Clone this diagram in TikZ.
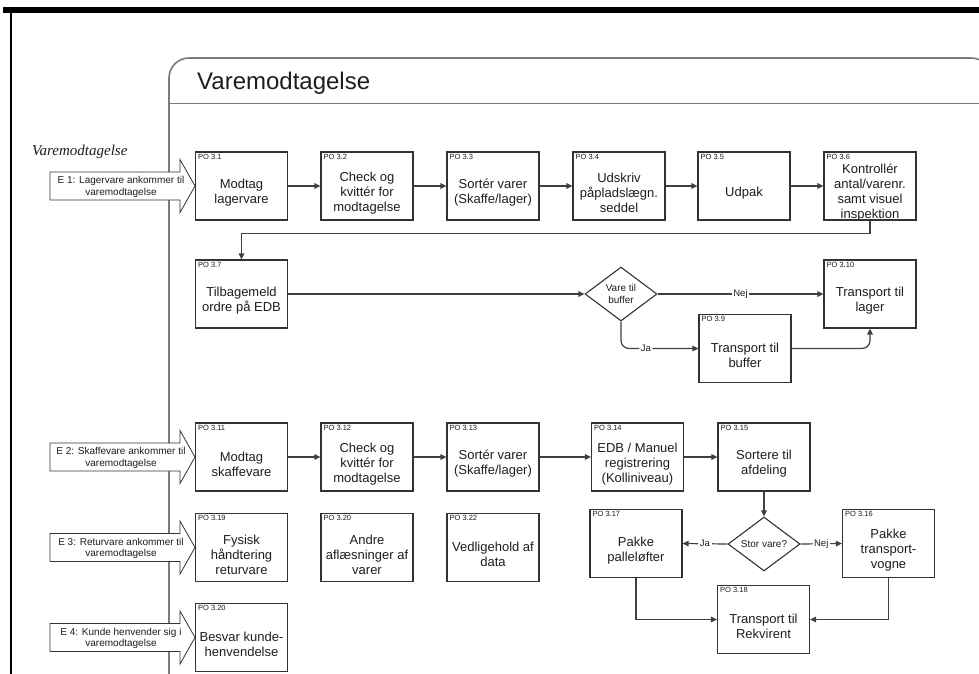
\documentclass[tikz,border=0pt]{standalone}
\usepackage{fontspec}
\setmainfont{Liberation Sans}
\newfontfamily\serifit{Liberation Serif}
\usetikzlibrary{arrows.meta,shapes.geometric,calc}

\definecolor{textc}{HTML}{1E1E1E}
\definecolor{boxline}{HTML}{333333}
\definecolor{connc}{HTML}{404040}
\definecolor{lanegray}{HTML}{7A7A7A}

\tikzset{
  procbox/.style={draw=boxline, line width=1.1pt, fill=white,
    minimum width=92pt, minimum height=68pt, inner sep=0pt},
  proctext/.style={font=\fontsize{13}{15}\selectfont, align=center,
    text=textc, inner sep=0pt},
  potag/.style={font=\fontsize{7.5}{8}\selectfont, anchor=north west,
    inner sep=0pt, text=textc},
  decision/.style={diamond, draw=boxline, line width=1.1pt, fill=white,
    aspect=1.333, minimum width=72pt, minimum height=54pt, inner sep=0pt,
    font=\fontsize{10}{12.5}\selectfont, align=center, text=textc},
  conn/.style={draw=connc, line width=1.2pt,
    -{Triangle[length=6pt,width=5.5pt]}},
  lbl/.style={fill=white, font=\fontsize{9.5}{11}\selectfont,
    inner sep=1.5pt, text=textc},
  eventshape/.style={draw=boxline, line width=0.8pt, fill=white},
  eventtext/.style={font=\fontsize{10}{11.5}\selectfont, align=center,
    text=textc, inner sep=0pt},
  frameline/.style={draw=lanegray, line width=1.6pt},
  divline/.style={draw=lanegray, line width=0.7pt}
}

% process box: name, centre x, centre y, tag, text
\newcommand\procbox[5]{%
  \node[procbox] (#1) at (#2,#3) {};
  \node[potag] (#1-tag) at ([xshift=3pt,yshift=-2.5pt]#1.north west) {#4};
  \node[proctext] (#1-txt) at ([yshift=-7pt]#1.center) {#5};}

% incoming event: name, centre y, text
\newcommand\eventarrow[3]{%
  \draw[eventshape] (50,#2-14) -- (180,#2-14) -- (180,#2-26.5) -- (195,#2)
    -- (180,#2+26.5) -- (180,#2+14) -- (50,#2+14) -- cycle;
  \node[eventtext] (#1) at (121,#2+1) {#3};}

\begin{document}
\begin{tikzpicture}[x=1pt,y=-1pt]
\useasboundingbox (0,0) rectangle (979,674);
\fill[white] (0,0) rectangle (979,674);
\begin{scope}
\clip (0,0) rectangle (979,674);

% page border
\fill[black] (3,7.5) rectangle (979,13);
\draw[black, line width=2.5pt] (11,13) -- (11,674);

% swimlane frame
\draw[frameline, rounded corners=20pt] (169,700) -- (169,58) -- (991,58) -- (991,700);
\draw[divline] (169,103) -- (979,103);
\node[anchor=base west, font=\fontsize{24}{28}\selectfont, text=textc, inner sep=0pt]
  (title) at (197,90) {Varemodtagelse};
\node[anchor=base west, font=\serifit\itshape\fontsize{15}{18}\selectfont, text=textc, inner sep=0pt]
  (lane) at (32,155) {Varemodtagelse};

% events
\eventarrow{e1}{186}{E 1: Lagervare ankommer til\\varemodtagelse}
\eventarrow{e2}{457}{E 2: Skaffevare ankommer til\\varemodtagelse}
\eventarrow{e3}{547.5}{E 3: Returvare ankommer til\\varemodtagelse}
\eventarrow{e4}{637.5}{E 4: Kunde henvender sig i\\varemodtagelse}

% first flow
\procbox{p31}{241.5}{186}{PO 3.1}{Modtag\\lagervare}
\procbox{p32}{367}{186}{PO 3.2}{Check og\\kvittér for\\modtagelse}
\procbox{p33}{493}{186}{PO 3.3}{Sortér varer\\(Skaffe/lager)}
\procbox{p34}{619}{186}{PO 3.4}{Udskriv\\påpladslægn.\\seddel}
\procbox{p35}{744}{186}{PO 3.5}{Udpak}
\procbox{p36}{870}{186}{PO 3.6}{Kontrollér\\antal/varenr.\\samt visuel\\inspektion}

\procbox{p37}{241.5}{294}{PO 3.7}{Tilbagemeld\\ordre på EDB}
\node[decision] (d1) at (621,294) {Vare til\\buffer};
\procbox{p310}{870}{294}{PO 3.10}{Transport til\\lager}
\procbox{p39}{745}{348.5}{PO 3.9}{Transport til\\buffer}

% second flow
\procbox{p311}{241.5}{457}{PO 3.11}{Modtag\\skaffevare}
\procbox{p312}{367}{457}{PO 3.12}{Check og\\kvittér for\\modtagelse}
\procbox{p313}{493}{457}{PO 3.13}{Sortér varer\\(Skaffe/lager)}
\procbox{p314}{637.5}{457}{PO 3.14}{EDB / Manuel\\registrering\\(Kolliniveau)}
\procbox{p315}{764}{457}{PO 3.15}{Sortere til\\afdeling}
\node[decision] (d2) at (764,544) {Stor vare?};
\procbox{p317}{636}{543.5}{PO 3.17}{Pakke\\palleløfter}
\procbox{p316}{888.5}{543.5}{PO 3.16}{Pakke\\transport-\\vogne}
\procbox{p318}{763.5}{619.5}{PO 3.18}{Transport til\\Rekvirent}

% other activities
\procbox{p319}{241.5}{547.5}{PO 3.19}{Fysisk\\håndtering\\returvare}
\procbox{p320b}{367}{547.5}{PO 3.20}{Andre\\aflæsninger af\\varer}
\procbox{p322}{493}{547.5}{PO 3.22}{Vedligehold af\\data}
\procbox{p320}{241.5}{637.5}{PO 3.20}{Besvar kunde-\\henvendelse}

% connectors, first flow
\draw[conn] (p31.east) -- (p32.west);
\draw[conn] (p32.east) -- (p33.west);
\draw[conn] (p33.east) -- (p34.west);
\draw[conn] (p34.east) -- (p35.west);
\draw[conn] (p35.east) -- (p36.west);
\draw[conn] (p36.south) -- ++(0,13) -| (p37.north);
\draw[conn] (p37.east) -- (d1.west);
\draw[conn] (d1.east) -- node[lbl] {Nej} (p310.west);
\draw[conn, rounded corners=8pt] (d1.south) |- node[lbl, pos=0.66] {Ja} (p39.west);
\draw[conn, rounded corners=8pt] (p39.east) -| (p310.south);

% connectors, second flow
\draw[conn] (p311.east) -- (p312.west);
\draw[conn] (p312.east) -- (p313.west);
\draw[conn] (p313.east) -- (p314.west);
\draw[conn] (p314.east) -- (p315.west);
\draw[conn] (p315.south) -- (d2.north);
\draw[conn] (d2.west) -- node[lbl] {Ja} (p317.east);
\draw[conn] (d2.east) -- node[lbl] {Nej} (p316.west);
\draw[conn] (p317.south) |- (p318.west);
\draw[conn] (p316.south) |- (p318.east);
\end{scope}
\end{tikzpicture}
\end{document}
